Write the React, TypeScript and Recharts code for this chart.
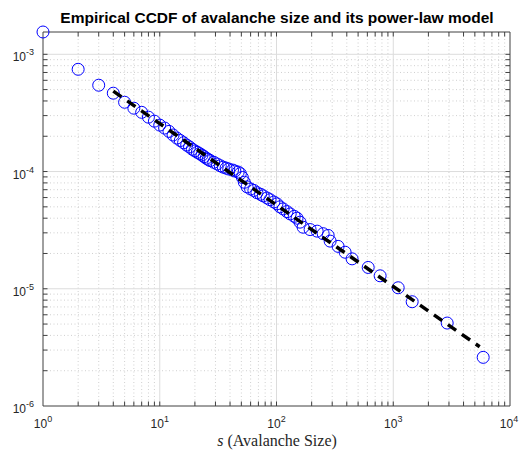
import React from "react";
import {
  ScatterChart,
  Scatter,
  XAxis,
  YAxis,
  ReferenceLine,
} from "recharts";

const sizes = [
  1, 2, 3, 4, 5, 6, 7, 8, 9, 10, 11, 12, 13, 14, 15, 16, 17, 18, 19, 20, 21,
  22, 23, 24, 25, 26, 27, 29, 31, 33, 35, 37, 39, 42, 44, 47, 49, 51, 53, 56,
  60, 64, 68, 73, 77, 83, 88, 95, 101, 107, 114, 123, 131, 142, 150, 159, 169,
  194, 223, 251, 277, 288, 337, 387, 444, 610, 772, 1102, 1452, 2897, 5893,
];
const ccdf = [
  1.55e-3, 7.45e-4, 5.45e-4, 4.66e-4, 3.9e-4, 3.47e-4, 3.2e-4, 2.91e-4,
  2.69e-4, 2.49e-4, 2.35e-4, 2.2e-4, 2.05e-4, 1.93e-4, 1.84e-4, 1.76e-4,
  1.68e-4, 1.62e-4, 1.55e-4, 1.5e-4, 1.46e-4, 1.42e-4, 1.38e-4, 1.34e-4,
  1.3e-4, 1.27e-4, 1.24e-4, 1.2e-4, 1.16e-4, 1.12e-4, 1.09e-4, 1.07e-4,
  1.05e-4, 1.03e-4, 1.01e-4, 9.9e-5, 9.6e-5, 8.9e-5, 8.1e-5, 7.4e-5, 7.1e-5,
  6.9e-5, 6.6e-5, 6.4e-5, 6.2e-5, 5.95e-5, 5.75e-5, 5.5e-5, 5.3e-5, 5.0e-5,
  4.8e-5, 4.55e-5, 4.35e-5, 4.15e-5, 4.0e-5, 3.7e-5, 3.35e-5, 3.2e-5, 3.1e-5,
  2.95e-5, 2.85e-5, 2.55e-5, 2.3e-5, 2.05e-5, 1.8e-5, 1.52e-5, 1.29e-5,
  1.02e-5, 7.75e-6, 5.1e-6, 2.6e-6,
];

// fitted power-law (straight line in log-log), endpoints only
const modelS = [4, 5500];
const modelP = [4.85e-4, 3.2e-6];

const xTicks = [1, 10, 100, 1000, 10000];
const xExp = ["0", "1", "2", "3", "4"];
const yTicks = [1e-6, 1e-5, 1e-4, 1e-3];
const yExp = ["-6", "-5", "-4", "-3"];
const yTop = 1.55e-3;

const xMinor = [1, 10, 100, 1000].flatMap((d) =>
  [2, 3, 4, 5, 6, 7, 8, 9].map((m) => m * d)
);
const yMinor = [1e-6, 1e-5, 1e-4].flatMap((d) =>
  [2, 3, 4, 5, 6, 7, 8, 9].map((m) => m * d)
);

const points = sizes.map((s, i) => ({ s, p: ccdf[i] }));
const model = modelS.map((s, i) => ({ s, p: modelP[i] }));

const AXIS = "#404040";
const TICK = 4.5;
const FONT = "'Liberation Sans', Arial, sans-serif";

function GridV(major: boolean) {
  return (props: any) => {
    const { x1, y1, y2 } = props;
    const top = Math.min(y1, y2);
    const bot = Math.max(y1, y2);
    return (
      <g>
        <line
          x1={x1}
          x2={x1}
          y1={top}
          y2={bot}
          stroke={major ? "#dcdcdc" : "#c4c4c4"}
          strokeWidth={major ? 1 : 0.8}
          strokeDasharray={major ? undefined : "1 2.5"}
        />
        <line x1={x1} x2={x1} y1={bot} y2={bot - TICK} stroke={AXIS} />
        <line x1={x1} x2={x1} y1={top} y2={top + TICK} stroke={AXIS} />
      </g>
    );
  };
}

function GridH(major: boolean) {
  return (props: any) => {
    const { y1, x1, x2 } = props;
    const left = Math.min(x1, x2);
    const right = Math.max(x1, x2);
    return (
      <g>
        <line
          x1={left}
          x2={right}
          y1={y1}
          y2={y1}
          stroke={major ? "#dcdcdc" : "#c4c4c4"}
          strokeWidth={major ? 1 : 0.8}
          strokeDasharray={major ? undefined : "1 2.5"}
        />
        <line x1={left} x2={left + TICK} y1={y1} y2={y1} stroke={AXIS} />
        <line x1={right} x2={right - TICK} y1={y1} y2={y1} stroke={AXIS} />
      </g>
    );
  };
}

function XTick({ x, y, payload }: any) {
  const i = xTicks.indexOf(payload.value);
  return (
    <text
      x={x}
      y={y + 14}
      textAnchor="middle"
      fontFamily={FONT}
      fontSize={12}
      fill="#262626"
    >
      <tspan>10</tspan>
      <tspan dy={-6} fontSize={9}>
        {xExp[i]}
      </tspan>
    </text>
  );
}

function YTick({ x, y, payload }: any) {
  const i = yTicks.indexOf(payload.value);
  return (
    <text
      x={x - 1}
      y={y + 7}
      textAnchor="end"
      fontFamily={FONT}
      fontSize={12}
      fill="#262626"
    >
      <tspan>10</tspan>
      <tspan dy={-6} fontSize={9}>
        {yExp[i]}
      </tspan>
    </text>
  );
}

const Ring = (props: any) => (
  <circle
    cx={props.cx}
    cy={props.cy}
    r={6}
    fill="none"
    stroke="#0000ff"
    strokeWidth={1}
  />
);

export default function App() {
  return (
    <div
      style={{
        position: "absolute",
        left: 0,
        top: 0,
        width: 529,
        height: 450,
        background: "#fff",
      }}
    >
      <div
        style={{
          position: "absolute",
          top: 9,
          left: 0,
          width: 529,
          textAlign: "center",
          paddingLeft: 25,
          boxSizing: "border-box",
          fontFamily: FONT,
          fontWeight: "bold",
          fontSize: 15.5,
          color: "#000",
          whiteSpace: "nowrap",
        }}
      >
        Empirical CCDF of avalanche size and its power-law model
      </div>
      <div
        style={{
          position: "absolute",
          top: 432,
          left: 0,
          width: 529,
          textAlign: "center",
          paddingLeft: 25,
          boxSizing: "border-box",
          fontFamily: "'Liberation Serif', 'DejaVu Serif', serif",
          fontSize: 16,
          lineHeight: "18px",
          color: "#262626",
        }}
      >
        <i>s</i> (Avalanche Size)
      </div>
      <ScatterChart
        width={529}
        height={450}
        margin={{ top: 32, right: 19, bottom: 0, left: 0 }}
      >
        <XAxis
          type="number"
          dataKey="s"
          scale="log"
          domain={[1, 10000]}
          ticks={xTicks}
          tick={<XTick />}
          tickLine={false}
          axisLine={{ stroke: AXIS, strokeWidth: 1 }}
          height={44}
        />
        <YAxis
          type="number"
          dataKey="p"
          scale="log"
          domain={[1e-6, yTop]}
          ticks={yTicks}
          tick={<YTick />}
          tickLine={false}
          axisLine={{ stroke: AXIS, strokeWidth: 1 }}
          width={43}
        />
        {xMinor.map((v) => (
          <ReferenceLine key={"xm" + v} x={v} shape={GridV(false)} />
        ))}
        {yMinor.map((v) => (
          <ReferenceLine key={"ym" + v} y={v} shape={GridH(false)} />
        ))}
        {xTicks.slice(1, -1).map((v) => (
          <ReferenceLine key={"xM" + v} x={v} shape={GridV(true)} />
        ))}
        {yTicks.slice(1).map((v) => (
          <ReferenceLine key={"yM" + v} y={v} shape={GridH(true)} />
        ))}
        <ReferenceLine x={10000} stroke={AXIS} strokeWidth={1} />
        <ReferenceLine y={yTop} stroke={AXIS} strokeWidth={1} />
        <Scatter
          data={points}
          shape={<Ring />}
          isAnimationActive={false}
        />
        <Scatter
          data={model}
          shape={() => <g />}
          line={{ stroke: "#000", strokeWidth: 3.5, strokeDasharray: "10 7" }}
          isAnimationActive={false}
        />
      </ScatterChart>
    </div>
  );
}
